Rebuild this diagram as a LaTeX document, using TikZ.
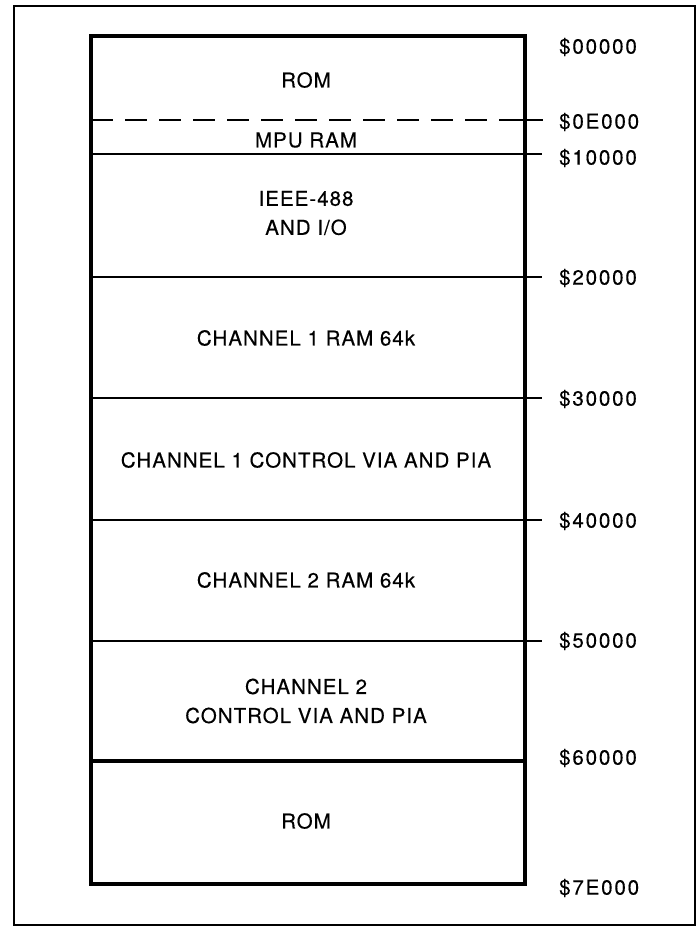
\documentclass[tikz,border=0pt]{standalone}
\usepackage{fontspec}
\setmainfont{TeX Gyre Heros}[LetterSpace=5,FakeBold=0.4]
\newfontfamily\addrfont{TeX Gyre Heros}[LetterSpace=9,FakeBold=0.4]
\begin{document}
\begin{tikzpicture}[x=1pt,y=-1pt,
  frame/.style={line width=1.6pt},
  memory/.style={line width=3.2pt},
  sep/.style={line width=2.8pt},
  thicksep/.style={line width=3.4pt},
  dashsep/.style={line width=2.8pt, dash pattern=on 22pt off 12pt},
  region/.style={align=center, font=\fontsize{20.5}{29}\selectfont, inner sep=0pt},
  addr/.style={anchor=west, font=\addrfont\fontsize{20.5}{22}\selectfont, inner sep=0pt}]
\useasboundingbox (0,0) rectangle (700,929);
% outer frame
\draw[frame] (14,6) rectangle (695,925);
% memory block
\coordinate (TL) at (91,36);
\coordinate (BR) at (525,884);
\draw[memory] (TL) rectangle (BR);
% boundaries
\coordinate (d0) at (91,120);  \coordinate (d1) at (525,120); \coordinate (d2) at (543,120);
\coordinate (a0) at (91,154);  \coordinate (a1) at (542,154);
\coordinate (b0) at (91,277);  \coordinate (b1) at (542,277);
\coordinate (c0) at (91,398);  \coordinate (c1) at (542,398);
\coordinate (e0) at (91,520);  \coordinate (e1) at (542,520);
\coordinate (f0) at (91,641);  \coordinate (f1) at (542,641);
\coordinate (g0) at (91,761);  \coordinate (g1) at (525,761);
\draw[dashsep] (d0) -- (d1);
\draw[sep] (505,120) -- (d2);
\draw[sep] (a0) -- (a1);
\draw[sep] (b0) -- (b1);
\draw[sep] (c0) -- (c1);
\draw[sep] (e0) -- (e1);
\draw[sep] (f0) -- (f1);
\draw[thicksep] (g0) -- (g1);
% region labels
\node[region] (rom1) at (306,80) {ROM};
\node[region] (mpu) at (306,140) {MPU RAM};
\node[region] (ieee) at (306,213) {IEEE-488\\AND I/O};
\node[region] (c1ram) at (306,338) {CHANNEL 1 RAM 64k};
\node[region] (c1ctl) at (306,460) {CHANNEL 1 CONTROL VIA AND PIA};
\node[region] (c2ram) at (306,580) {CHANNEL 2 RAM 64k};
\node[region] (c2ctl) at (306,701) {CHANNEL 2\\CONTROL VIA AND PIA};
\node[region] (rom2) at (306,821) {ROM};
% address labels
\node[addr] (l0) at (559,47) {\$00000};
\node[addr] (l1) at (559,122) {\$0E000};
\node[addr] (l2) at (559,158) {\$10000};
\node[addr] (l3) at (559,278) {\$20000};
\node[addr] (l4) at (559,399) {\$30000};
\node[addr] (l5) at (559,521) {\$40000};
\node[addr] (l6) at (559,641) {\$50000};
\node[addr] (l7) at (559,758) {\$60000};
\node[addr] (l8) at (559,888) {\$7E000};
\end{tikzpicture}
\end{document}
